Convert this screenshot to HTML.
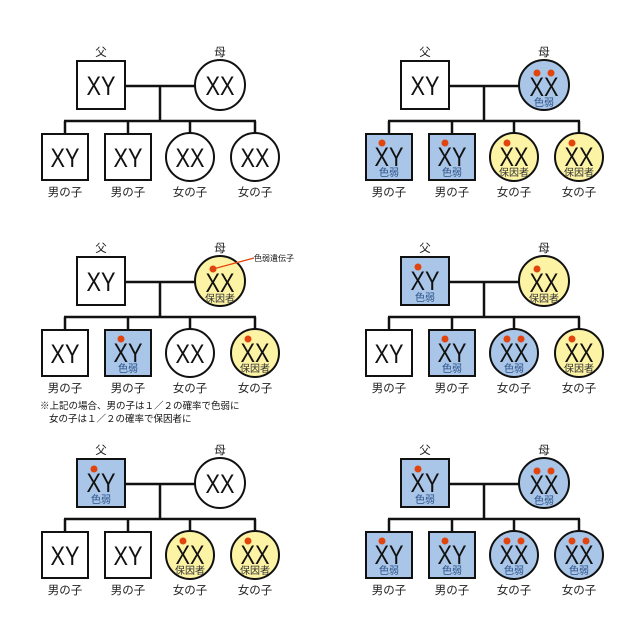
<!DOCTYPE html>
<html><head><meta charset="utf-8"><style>
html,body{margin:0;padding:0;background:#fff}
svg{display:block}
text{font-family:"Liberation Sans","Noto Sans CJK JP",sans-serif;text-anchor:middle;fill:#111}
.g{font-size:27px}
.s{font-size:10px}
.b{fill:#2a4f86}
.y{fill:#333}
.l{font-size:11.5px;fill:#222}
.n{stroke:#111;stroke-width:2}
.w{fill:#fff}.bl{fill:#a9c6e8}.ye{fill:#fdf3a5}
.d{fill:#e2440e}
</style></head><body>
<svg width="640" height="640" viewBox="0 0 640 640">
<defs>
<g id="lines">
<path d="M125 86H195M160 86V121M64 121H256M65 121V134M128 121V134M190 121V134M255 121V134" stroke="#111" stroke-width="2.5" fill="none"/>
<text x="101" y="56" class="l">父</text><text x="220" y="56" class="l">母</text>
<text x="65" y="196" class="l">男の子</text><text x="128" y="196" class="l">男の子</text>
<text x="190" y="196" class="l">女の子</text><text x="255" y="196" class="l">女の子</text>
</g>
</defs>

<!-- Panel 1 -->
<g>
<use href="#lines"/>
<rect x="77" y="61" width="48" height="48" class="n w"/><text x="101" y="95" class="g" textLength="29" lengthAdjust="spacingAndGlyphs">XY</text>
<circle cx="220" cy="85" r="25" class="n w"/><text x="220" y="95" class="g" textLength="29" lengthAdjust="spacingAndGlyphs">XX</text>
<rect x="42" y="134" width="46" height="46" class="n w"/><text x="65" y="167" class="g" textLength="29" lengthAdjust="spacingAndGlyphs">XY</text>
<rect x="105" y="134" width="46" height="46" class="n w"/><text x="128" y="167" class="g" textLength="29" lengthAdjust="spacingAndGlyphs">XY</text>
<circle cx="190" cy="157" r="24" class="n w"/><text x="190" y="167" class="g" textLength="29" lengthAdjust="spacingAndGlyphs">XX</text>
<circle cx="255" cy="157" r="24" class="n w"/><text x="255" y="167" class="g" textLength="29" lengthAdjust="spacingAndGlyphs">XX</text>
</g>

<!-- Panel 2 -->
<g transform="translate(324,0)">
<use href="#lines"/>
<rect x="77" y="61" width="48" height="48" class="n w"/><text x="101" y="95" class="g" textLength="29" lengthAdjust="spacingAndGlyphs">XY</text>
<circle cx="220" cy="85" r="25" class="n bl"/><text x="220" y="96" class="g" textLength="29" lengthAdjust="spacingAndGlyphs">XX</text><text x="220" y="106" class="s b">色弱</text><circle cx="213" cy="73" r="3.5" class="d"/><circle cx="227" cy="73" r="3.5" class="d"/>
<rect x="42" y="134" width="46" height="46" class="n bl"/><text x="65" y="166" class="g" textLength="29" lengthAdjust="spacingAndGlyphs">XY</text><text x="65" y="176" class="s b">色弱</text><circle cx="58" cy="143" r="3.5" class="d"/>
<rect x="105" y="134" width="46" height="46" class="n bl"/><text x="128" y="166" class="g" textLength="29" lengthAdjust="spacingAndGlyphs">XY</text><text x="128" y="176" class="s b">色弱</text><circle cx="121" cy="143" r="3.5" class="d"/>
<circle cx="190" cy="157" r="24" class="n ye"/><text x="190" y="166" class="g" textLength="29" lengthAdjust="spacingAndGlyphs">XX</text><text x="190" y="176" class="s y">保因者</text><circle cx="183" cy="143" r="3.5" class="d"/>
<circle cx="255" cy="157" r="24" class="n ye"/><text x="255" y="166" class="g" textLength="29" lengthAdjust="spacingAndGlyphs">XX</text><text x="255" y="176" class="s y">保因者</text><circle cx="248" cy="143" r="3.5" class="d"/>
</g>

<!-- Panel 3 -->
<g transform="translate(0,196)">
<use href="#lines"/>
<rect x="77" y="61" width="48" height="48" class="n w"/><text x="101" y="95" class="g" textLength="29" lengthAdjust="spacingAndGlyphs">XY</text>
<circle cx="220" cy="85" r="25" class="n ye"/><text x="220" y="96" class="g" textLength="29" lengthAdjust="spacingAndGlyphs">XX</text><text x="220" y="106" class="s y">保因者</text><circle cx="213" cy="73" r="3.5" class="d"/>
<path d="M213 73L254 62" stroke="#e2440e" stroke-width="1.2"/><text x="274" y="65" style="font-size:8px">色弱遺伝子</text>
<rect x="42" y="134" width="46" height="46" class="n w"/><text x="65" y="167" class="g" textLength="29" lengthAdjust="spacingAndGlyphs">XY</text>
<rect x="105" y="134" width="46" height="46" class="n bl"/><text x="128" y="166" class="g" textLength="29" lengthAdjust="spacingAndGlyphs">XY</text><text x="128" y="176" class="s b">色弱</text><circle cx="121" cy="143" r="3.5" class="d"/>
<circle cx="190" cy="157" r="24" class="n w"/><text x="190" y="167" class="g" textLength="29" lengthAdjust="spacingAndGlyphs">XX</text>
<circle cx="255" cy="157" r="24" class="n ye"/><text x="255" y="166" class="g" textLength="29" lengthAdjust="spacingAndGlyphs">XX</text><text x="255" y="176" class="s y">保因者</text><circle cx="248" cy="143" r="3.5" class="d"/>
<text x="40" y="213" style="font-size:9.5px;text-anchor:start">※上記の場合、男の子は１／２の確率で色弱に</text>
<text x="49" y="226" style="font-size:9.5px;text-anchor:start">女の子は１／２の確率で保因者に</text>
</g>

<!-- Panel 4 -->
<g transform="translate(324,196)">
<use href="#lines"/>
<rect x="77" y="61" width="48" height="48" class="n bl"/><text x="101" y="94" class="g" textLength="29" lengthAdjust="spacingAndGlyphs">XY</text><text x="101" y="105" class="s b">色弱</text><circle cx="94" cy="71" r="3.5" class="d"/>
<circle cx="220" cy="85" r="25" class="n ye"/><text x="220" y="96" class="g" textLength="29" lengthAdjust="spacingAndGlyphs">XX</text><text x="220" y="106" class="s y">保因者</text><circle cx="213" cy="73" r="3.5" class="d"/>
<rect x="42" y="134" width="46" height="46" class="n w"/><text x="65" y="167" class="g" textLength="29" lengthAdjust="spacingAndGlyphs">XY</text>
<rect x="105" y="134" width="46" height="46" class="n bl"/><text x="128" y="166" class="g" textLength="29" lengthAdjust="spacingAndGlyphs">XY</text><text x="128" y="176" class="s b">色弱</text><circle cx="121" cy="143" r="3.5" class="d"/>
<circle cx="190" cy="157" r="24" class="n bl"/><text x="190" y="166" class="g" textLength="29" lengthAdjust="spacingAndGlyphs">XX</text><text x="190" y="176" class="s b">色弱</text><circle cx="183" cy="143" r="3.5" class="d"/><circle cx="197" cy="143" r="3.5" class="d"/>
<circle cx="255" cy="157" r="24" class="n ye"/><text x="255" y="166" class="g" textLength="29" lengthAdjust="spacingAndGlyphs">XX</text><text x="255" y="176" class="s y">保因者</text><circle cx="248" cy="143" r="3.5" class="d"/>
</g>

<!-- Panel 5 -->
<g transform="translate(0,398)">
<use href="#lines"/>
<rect x="77" y="61" width="48" height="48" class="n bl"/><text x="101" y="94" class="g" textLength="29" lengthAdjust="spacingAndGlyphs">XY</text><text x="101" y="105" class="s b">色弱</text><circle cx="94" cy="71" r="3.5" class="d"/>
<circle cx="220" cy="85" r="25" class="n w"/><text x="220" y="95" class="g" textLength="29" lengthAdjust="spacingAndGlyphs">XX</text>
<rect x="42" y="134" width="46" height="46" class="n w"/><text x="65" y="167" class="g" textLength="29" lengthAdjust="spacingAndGlyphs">XY</text>
<rect x="105" y="134" width="46" height="46" class="n w"/><text x="128" y="167" class="g" textLength="29" lengthAdjust="spacingAndGlyphs">XY</text>
<circle cx="190" cy="157" r="24" class="n ye"/><text x="190" y="166" class="g" textLength="29" lengthAdjust="spacingAndGlyphs">XX</text><text x="190" y="176" class="s y">保因者</text><circle cx="183" cy="143" r="3.5" class="d"/>
<circle cx="255" cy="157" r="24" class="n ye"/><text x="255" y="166" class="g" textLength="29" lengthAdjust="spacingAndGlyphs">XX</text><text x="255" y="176" class="s y">保因者</text><circle cx="248" cy="143" r="3.5" class="d"/>
</g>

<!-- Panel 6 -->
<g transform="translate(324,398)">
<use href="#lines"/>
<rect x="77" y="61" width="48" height="48" class="n bl"/><text x="101" y="94" class="g" textLength="29" lengthAdjust="spacingAndGlyphs">XY</text><text x="101" y="105" class="s b">色弱</text><circle cx="94" cy="71" r="3.5" class="d"/>
<circle cx="220" cy="85" r="25" class="n bl"/><text x="220" y="96" class="g" textLength="29" lengthAdjust="spacingAndGlyphs">XX</text><text x="220" y="106" class="s b">色弱</text><circle cx="213" cy="73" r="3.5" class="d"/><circle cx="227" cy="73" r="3.5" class="d"/>
<rect x="42" y="134" width="46" height="46" class="n bl"/><text x="65" y="166" class="g" textLength="29" lengthAdjust="spacingAndGlyphs">XY</text><text x="65" y="176" class="s b">色弱</text><circle cx="58" cy="143" r="3.5" class="d"/>
<rect x="105" y="134" width="46" height="46" class="n bl"/><text x="128" y="166" class="g" textLength="29" lengthAdjust="spacingAndGlyphs">XY</text><text x="128" y="176" class="s b">色弱</text><circle cx="121" cy="143" r="3.5" class="d"/>
<circle cx="190" cy="157" r="24" class="n bl"/><text x="190" y="166" class="g" textLength="29" lengthAdjust="spacingAndGlyphs">XX</text><text x="190" y="176" class="s b">色弱</text><circle cx="183" cy="143" r="3.5" class="d"/><circle cx="197" cy="143" r="3.5" class="d"/>
<circle cx="255" cy="157" r="24" class="n bl"/><text x="255" y="166" class="g" textLength="29" lengthAdjust="spacingAndGlyphs">XX</text><text x="255" y="176" class="s b">色弱</text><circle cx="248" cy="143" r="3.5" class="d"/><circle cx="262" cy="143" r="3.5" class="d"/>
</g>
</svg>
</body></html>
